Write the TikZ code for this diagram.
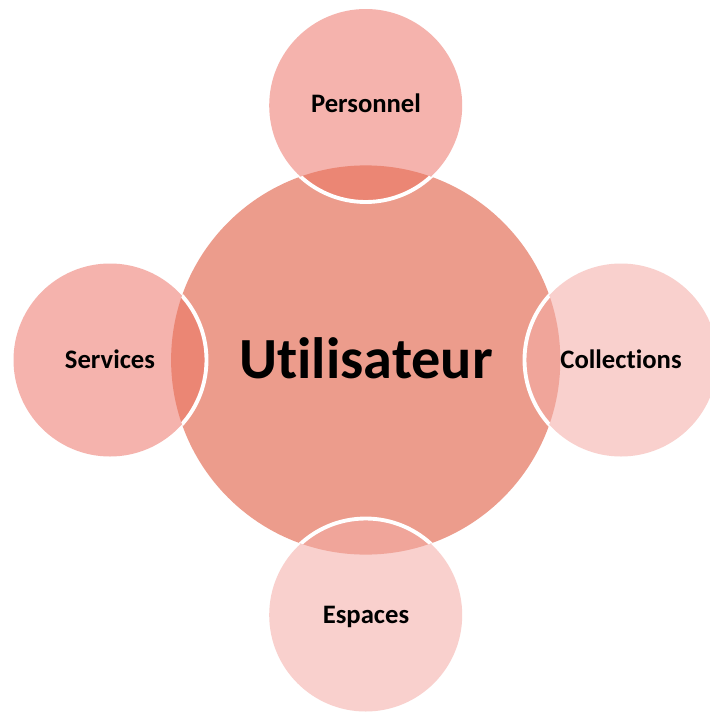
\documentclass[tikz,border=0pt]{standalone}
\usepackage{fontspec}
\setmainfont[RawFeature={-liga;-clig}]{Carlito}
\definecolor{big}{HTML}{EC9C8C}
\definecolor{dark}{HTML}{F5B3AD}
\definecolor{light}{HTML}{F9D0CD}
\definecolor{ovdark}{HTML}{EB8674}
\definecolor{ovlight}{HTML}{F0A59A}
\tikzset{
sat/.style={font=\bfseries\fontsize{20}{24}\selectfont,text=black,inner sep=0pt,anchor=base},
ring/.style={draw=white,line width=2.9pt}}
\begin{document}
\begin{tikzpicture}[x=0.75pt,y=-0.75pt]
\useasboundingbox (0,0) rectangle (710,714);
\fill[white] (0,0) rectangle (710,714);
\def\R{194.6}\def\r{96.5}
\coordinate (c) at (365.7,360);
\coordinate (n) at (365.7,105.5);
\coordinate (s) at (365.7,615);
\coordinate (w) at (110,360);
\coordinate (e) at (621,360);
\fill[big] (c) circle[radius=\R];
\foreach \p/\col/\ov in {n/dark/ovdark,w/dark/ovdark,e/light/ovlight,s/light/ovlight}{
  \fill[\col] (\p) circle[radius=\r];
  \begin{scope}
    \clip (c) circle[radius=\R];
    \fill[\ov] (\p) circle[radius=\r];
    \draw[ring] (\p) circle[radius=\r];
  \end{scope}
}
\node[inner sep=0pt,anchor=base,font=\bfseries\fontsize{43.7}{50}\selectfont] (tc) at (366,378) {Utilisateur};
\node[sat] (tn) at (366,112) {Personnel};
\node[sat] (ts) at (366,623) {Espaces};
\node[sat] (tw) at (110,368) {Services};
\node[sat] (te) at (621,368) {Collections};
\end{tikzpicture}
\end{document}
